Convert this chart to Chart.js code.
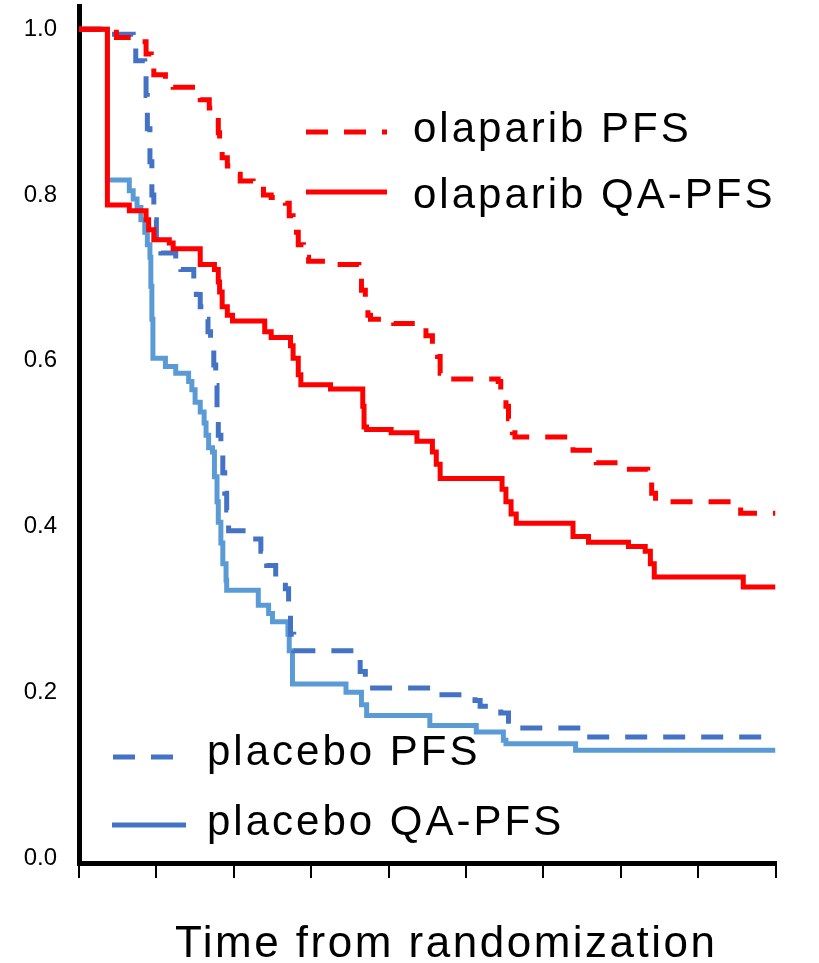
<!DOCTYPE html>
<html>
<head>
<meta charset="utf-8">
<script src="https://cdn.jsdelivr.net/npm/chart.js@4.4.1/dist/chart.umd.min.js"></script>
<style>
  html, body { margin: 0; padding: 0; background: #ffffff; }
  canvas { display: block; }
</style>
</head>
<body>
<canvas id="km" width="819" height="963"></canvas>
<script>
// Time since randomization (months); axis ticks every 6 months, no tick labels
const timeTicks = [0, 6, 12, 18, 24, 30, 36, 42, 48, 54];
// Survival probability ticks
const survivalTicks = [0.0, 0.2, 0.4, 0.6, 0.8, 1.0];

// olaparib PFS (Kaplan-Meier steps)
const olaparibPfsTime = [0, 2.9, 4.8, 5.2, 5.6, 5.8, 6.7, 7.3, 9.4, 10.1, 10.5, 10.8, 10.9, 11.1, 11.5, 12.0, 12.5, 13.5, 14.3, 14.9, 16.0, 16.3, 16.6, 17.0, 17.4, 17.8, 19.9, 21.7, 21.9, 22.2, 22.4, 22.6, 24.4, 26.5, 26.9, 27.4, 27.8, 28.0, 28.4, 32.5, 32.7, 33.1, 33.3, 33.6, 33.8, 38.3, 40.1, 42.0, 44.1, 44.4, 44.7, 51.3, 54];
const olaparibPfs = [1.0, 0.99, 0.985, 0.97, 0.955, 0.945, 0.94, 0.93, 0.915, 0.905, 0.89, 0.875, 0.86, 0.845, 0.835, 0.825, 0.817, 0.812, 0.80, 0.797, 0.79, 0.775, 0.755, 0.74, 0.725, 0.72, 0.716, 0.705, 0.685, 0.67, 0.655, 0.65, 0.645, 0.64, 0.63, 0.62, 0.605, 0.585, 0.578, 0.575, 0.565, 0.545, 0.53, 0.513, 0.508, 0.492, 0.477, 0.469, 0.45, 0.44, 0.43, 0.416, 0.416];

// olaparib QA-PFS
const olaparibQaTime = [0, 2.2, 3.9, 5.2, 5.4, 5.8, 7.0, 7.3, 9.4, 10.5, 10.8, 10.9, 11.1, 11.5, 11.9, 14.4, 14.9, 16.4, 16.6, 17.0, 17.2, 19.5, 22.0, 22.1, 22.3, 24.2, 26.2, 27.4, 27.7, 28.0, 32.8, 33.1, 33.5, 33.9, 38.3, 39.5, 42.6, 43.9, 44.3, 44.6, 51.5, 54];
const olaparibQa = [1.0, 0.788, 0.781, 0.77, 0.758, 0.746, 0.742, 0.735, 0.716, 0.71, 0.695, 0.683, 0.665, 0.655, 0.648, 0.635, 0.628, 0.618, 0.603, 0.583, 0.571, 0.566, 0.545, 0.52, 0.517, 0.513, 0.503, 0.49, 0.475, 0.458, 0.445, 0.43, 0.415, 0.404, 0.388, 0.381, 0.376, 0.37, 0.355, 0.339, 0.327, 0.327];

// placebo PFS
const placeboPfsTime = [0, 1.7, 4.2, 4.4, 5.1, 5.2, 5.3, 5.5, 5.65, 5.8, 6.0, 6.35, 7.5, 7.9, 8.9, 9.1, 9.4, 9.8, 10.0, 10.2, 10.45, 10.6, 10.7, 10.8, 11.0, 11.15, 11.3, 11.45, 11.6, 13.7, 14.1, 14.55, 15.25, 16.0, 16.25, 16.4, 16.65, 21.6, 21.8, 22.2, 27.4, 30.7, 31.1, 32.7, 33.3, 33.8, 38.9, 54];
const placeboPfs = [1.0, 0.994, 0.98, 0.962, 0.95, 0.92, 0.88, 0.84, 0.80, 0.77, 0.745, 0.73, 0.72, 0.71, 0.697, 0.68, 0.665, 0.65, 0.635, 0.615, 0.595, 0.57, 0.535, 0.51, 0.49, 0.465, 0.44, 0.42, 0.395, 0.385, 0.37, 0.353, 0.335, 0.325, 0.305, 0.27, 0.25, 0.24, 0.225, 0.205, 0.197, 0.19, 0.183, 0.175, 0.165, 0.157, 0.146, 0.146];

// placebo QA-PFS
const placeboQaTime = [0, 2.2, 3.9, 4.2, 4.5, 4.8, 5.1, 5.3, 5.5, 5.57, 5.65, 5.73, 6.7, 7.5, 8.5, 8.75, 9.0, 9.4, 9.7, 9.85, 10.05, 10.35, 10.5, 10.7, 10.8, 11.0, 11.15, 11.4, 11.45, 13.9, 14.7, 15.0, 16.2, 16.3, 16.55, 20.7, 21.9, 22.3, 27.2, 30.8, 32.9, 33.1, 38.5, 54];
const placeboQa = [1.0, 0.818, 0.805, 0.795, 0.785, 0.77, 0.755, 0.74, 0.725, 0.69, 0.65, 0.603, 0.593, 0.585, 0.575, 0.565, 0.55, 0.538, 0.525, 0.51, 0.495, 0.49, 0.46, 0.43, 0.405, 0.38, 0.355, 0.335, 0.323, 0.305, 0.295, 0.285, 0.27, 0.25, 0.21, 0.2, 0.185, 0.172, 0.16, 0.152, 0.142, 0.138, 0.13, 0.13];

const FONT = "'Liberation Sans', Arial, Helvetica, sans-serif";
const RED = '#ff0000';
const BLUE_DARK = '#4472c4';
const BLUE_LIGHT = '#5b9bd5';
const DASH = [22, 16];

const toPoints = (t, s) => t.map((x, i) => ({ x: x, y: s[i] }));

function curve(label, t, s, color, dashed, order) {
  return {
    label: label,
    data: toPoints(t, s),
    borderColor: color,
    borderWidth: 5,
    borderDash: dashed ? DASH : [],
    borderCapStyle: 'butt',
    borderJoinStyle: 'miter',
    stepped: 'before',
    pointRadius: 0,
    fill: false,
    order: order
  };
}

// Legend placement: two groups, one upper right and one lower left
const legendSlots = [
  { index: 0, x0: 306, x1: 387, y: 132, tx: 413, ty: 142 },
  { index: 1, x0: 306, x1: 387, y: 192, tx: 413, ty: 208 },
  { index: 2, x0: 113, x1: 173, y: 757, tx: 207, ty: 765 },
  { index: 3, x0: 112, x1: 186, y: 825, tx: 207, ty: 835, color: BLUE_DARK }
];

const kmDecor = {
  id: 'kmDecor',
  afterDraw(chart) {
    const ctx = chart.ctx;
    const ds = chart.data.datasets;
    ctx.save();
    ctx.letterSpacing = '3px';
    legendSlots.forEach(slot => {
      const d = ds[slot.index];
      ctx.beginPath();
      ctx.lineWidth = 5;
      ctx.lineCap = 'butt';
      ctx.strokeStyle = slot.color || d.borderColor;
      ctx.setLineDash(d.borderDash || []);
      ctx.moveTo(slot.x0, slot.y);
      ctx.lineTo(slot.x1, slot.y);
      ctx.stroke();
      ctx.setLineDash([]);
      ctx.fillStyle = '#000000';
      ctx.font = '42px ' + FONT;
      ctx.textAlign = 'left';
      ctx.textBaseline = 'alphabetic';
      ctx.fillText(d.label, slot.tx, slot.ty);
    });
    // horizontal axis title
    ctx.letterSpacing = '2.5px';
    ctx.font = '44px ' + FONT;
    ctx.fillStyle = '#000000';
    ctx.textAlign = 'left';
    ctx.textBaseline = 'alphabetic';
    ctx.fillText('Time from randomization', 175, 957);
    ctx.restore();
  }
};

new Chart(document.getElementById('km'), {
  type: 'line',
  data: {
    datasets: [
      curve('olaparib PFS', olaparibPfsTime, olaparibPfs, RED, true, 2),
      curve('olaparib QA-PFS', olaparibQaTime, olaparibQa, RED, false, 1),
      curve('placebo PFS', placeboPfsTime, placeboPfs, BLUE_DARK, true, 3),
      curve('placebo QA-PFS', placeboQaTime, placeboQa, BLUE_LIGHT, false, 4)
    ]
  },
  options: {
    responsive: false,
    devicePixelRatio: 1,
    animation: false,
    layout: { autoPadding: false, padding: { top: 6, right: 43.5, bottom: 0, left: 0 } },
    plugins: {
      legend: { display: false },
      tooltip: { enabled: false },
      title: { display: false }
    },
    scales: {
      x: {
        type: 'linear',
        min: timeTicks[0],
        max: timeTicks[timeTicks.length - 1],
        z: 1,
        afterBuildTicks: s => { s.ticks = timeTicks.map(v => ({ value: v })); },
        afterFit: s => { s.height = 100; s.paddingLeft = 0; s.paddingRight = 0; },
        ticks: { display: false },
        grid: {
          display: true,
          drawOnChartArea: false,
          drawTicks: true,
          tickLength: 15,
          tickWidth: 2,
          tickColor: '#000000',
          lineWidth: 2,
          color: '#000000'
        },
        border: { display: true, color: '#000000', width: 5 }
      },
      y: {
        type: 'linear',
        min: -0.006,
        max: 1.028,
        z: 1,
        afterBuildTicks: s => { s.ticks = survivalTicks.map(v => ({ value: v })); },
        afterFit: s => { s.width = 79; s.paddingTop = 0; s.paddingBottom = 0; },
        ticks: {
          padding: 22,
          color: '#000000',
          font: { family: FONT, size: 24 },
          callback: v => Number(v).toFixed(1)
        },
        grid: { display: false, drawTicks: false },
        border: { display: true, color: '#000000', width: 5 }
      }
    }
  },
  plugins: [kmDecor]
});
</script>
</body>
</html>
